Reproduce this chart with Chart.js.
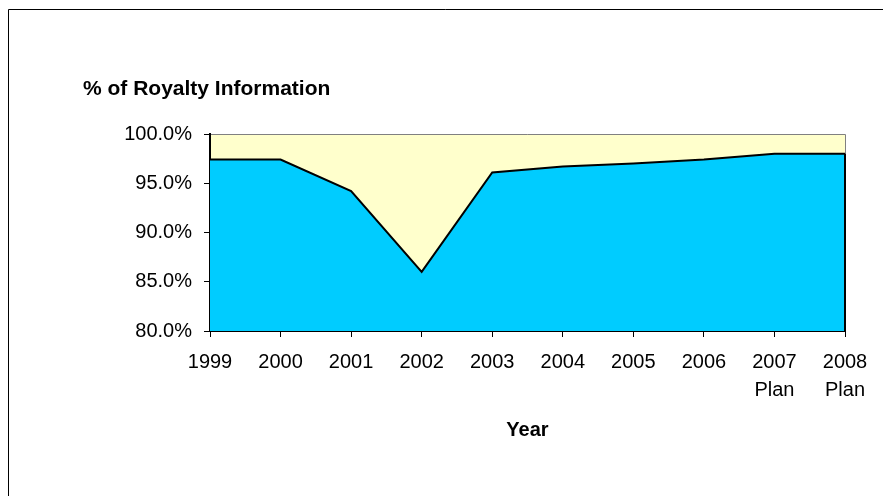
<!DOCTYPE html>
<html>
<head>
<meta charset="utf-8">
<script src="https://cdn.jsdelivr.net/npm/chart.js@4/dist/chart.umd.min.js"></script>
<style>
  html, body { margin: 0; padding: 0; background: #fff; overflow: hidden; }
  #wrap { width: 883px; height: 496px; position: relative; }
</style>
</head>
<body>
<div id="wrap"><canvas id="c" width="883" height="496"></canvas></div>
<script>
// ---- data ----
const categories = ['1999', '2000', '2001', '2002', '2003', '2004', '2005', '2006', ['2007', 'Plan'], ['2008', 'Plan']];
const royaltyInfoPct = [97.4, 97.4, 94.2, 86.0, 96.1, 96.7, 97.0, 97.4, 98.0, 98.0];
const yTicks = [80, 85, 90, 95, 100];
const chartTitle = '% of Royalty Information';
const xAxisTitle = 'Year';

const FONT = '"Liberation Sans", Arial, sans-serif';

const frame = {
  id: 'frame',
  beforeDraw(chart) {
    const ctx = chart.ctx;
    const a = chart.chartArea;
    ctx.save();
    ctx.fillStyle = '#fff';
    ctx.fillRect(0, 0, chart.width, chart.height);
    // outer border
    ctx.strokeStyle = '#000';
    ctx.lineWidth = 1;
    ctx.beginPath();
    ctx.moveTo(8.5, chart.height);
    ctx.lineTo(8.5, 9.5);
    ctx.lineTo(chart.width, 9.5);
    ctx.stroke();
    // plot background
    ctx.fillStyle = '#FFFFCC';
    ctx.fillRect(a.left, a.top, a.right - a.left, a.bottom - a.top);
    ctx.strokeStyle = '#808080';
    ctx.beginPath();
    ctx.moveTo(a.left, a.top + 0.5);
    ctx.lineTo(a.right + 0.5, a.top + 0.5);
    ctx.lineTo(a.right + 0.5, a.bottom);
    ctx.stroke();
    // chart title
    ctx.fillStyle = '#000';
    ctx.font = 'bold 21px ' + FONT;
    ctx.textBaseline = 'alphabetic';
    ctx.textAlign = 'left';
    ctx.fillText(chartTitle, 83, 95);
    ctx.restore();
  },
  afterDatasetsDraw(chart) {
    const meta = chart.getDatasetMeta(0);
    const pts = meta.data;
    const last = pts[pts.length - 1];
    const ctx = chart.ctx;
    const a = chart.chartArea;
    ctx.save();
    ctx.strokeStyle = '#000';
    ctx.lineWidth = 2;
    ctx.beginPath();
    ctx.moveTo(last.x, last.y);
    ctx.lineTo(last.x, a.bottom);
    ctx.stroke();
    ctx.restore();
  }
};

new Chart(document.getElementById('c'), {
  type: 'line',
  data: {
    labels: categories,
    datasets: [{
      data: royaltyInfoPct,
      fill: 'start',
      backgroundColor: '#00CCFF',
      borderColor: '#000',
      borderWidth: 2,
      pointRadius: 0,
      tension: 0
    }]
  },
  options: {
    responsive: false,
    animation: false,
    devicePixelRatio: 1,
    layout: { padding: { top: 134, right: 38, left: 0, bottom: 0 } },
    plugins: { legend: { display: false }, tooltip: { enabled: false }, title: { display: false } },
    scales: {
      x: {
        type: 'category',
        offset: false,
        afterFit(s) { s.height = 165; },
        grid: { drawOnChartArea: false, color: '#000', tickLength: 6, tickWidth: 1 },
        border: { color: '#000', width: 2 },
        ticks: {
          color: '#000',
          font: { family: FONT, size: 20, lineHeight: 1.4 },
          padding: 11,
          maxRotation: 0,
          autoSkip: false
        },
        title: {
          display: true,
          text: xAxisTitle,
          color: '#000',
          font: { family: FONT, size: 20, weight: 'bold', lineHeight: 1.2 },
          padding: { top: 0, bottom: 54 }
        }
      },
      y: {
        min: 80,
        max: 100,
        afterFit(s) { s.width = 210; },
        afterBuildTicks(s) { s.ticks = yTicks.map(v => ({ value: v })); },
        grid: { drawOnChartArea: false, color: '#000', tickLength: 6, tickWidth: 1 },
        border: { color: '#000', width: 2 },
        ticks: {
          color: '#000',
          font: { family: FONT, size: 20 },
          padding: 12,
          callback: v => Number(v).toFixed(1) + '%'
        }
      }
    }
  },
  plugins: [frame]
});
</script>
</body>
</html>
